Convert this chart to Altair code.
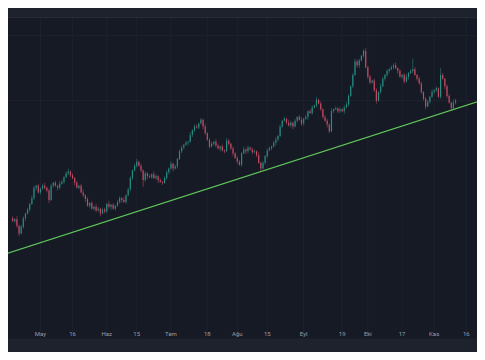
import altair as alt
import pandas as pd

# ---- data (daily candles) ----
close = [
    177, 179, 172, 164, 171, 180, 185, 189, 195, 201, 212, 214, 207, 211, 214, 212,
    209, 199, 214, 217, 214, 212, 216, 218, 223, 227, 229, 225, 222, 217, 212, 214,
    207, 204, 200, 193, 196, 190, 192, 188, 190, 185, 189, 187, 195, 192, 194, 190,
    193, 197, 201, 199, 197, 204, 210, 222, 230, 235, 239, 235, 230, 220, 227, 224,
    223, 226, 222, 224, 220, 218, 217, 222, 228, 232, 237, 232, 234, 242, 250, 254,
    257, 259, 260, 267, 272, 276, 275, 279, 283, 276, 269, 262, 255, 258, 260, 256,
    253, 255, 251, 250, 261, 258, 253, 248, 243, 239, 236, 248, 252, 250, 254, 252,
    249, 250, 246, 238, 232, 238, 245, 251, 253, 255, 259, 262, 266, 276, 282, 284,
    280, 277, 280, 276, 282, 286, 283, 279, 284, 286, 292, 290, 296, 298, 304, 300,
    294, 286, 282, 278, 271, 292, 294, 295, 292, 294, 292, 296, 299, 308, 318, 330,
    344, 340, 345, 350, 355, 338, 328, 322, 324, 314, 303, 312, 318, 326, 330, 334,
    336, 338, 340, 337, 334, 328, 330, 323, 328, 332, 334, 336, 330, 326, 321, 312,
    305, 297, 302, 307, 312, 314, 316, 307, 330, 326, 318, 308, 301, 295, 301, 303,
]
first_open = 180
upper_wick = [
    2, 1, 3, 1, 2, 2, 1, 2, 1, 3, 2, 1, 2, 1, 2, 3,
    1, 2, 2, 1, 2, 1, 3, 2, 1, 2, 3, 1, 2, 1, 2, 1,
    2, 3, 1, 2, 1, 2, 1, 3, 2, 1, 2, 2, 1, 3, 1, 2,
    1, 2, 2, 1, 3, 1, 2, 2, 1, 2, 3, 1, 2, 1, 2, 1,
    2, 1, 3, 2, 1, 2, 1, 2, 2, 1, 3, 1, 2, 1, 2, 2,
    1, 2, 1, 3, 1, 2, 2, 1, 2, 1, 3, 1, 2, 2, 1, 3,
    2, 1, 2, 1, 3, 2, 1, 2, 1, 2, 2, 1, 3, 1, 2, 1,
    2, 2, 1, 3, 1, 2, 1, 2, 2, 1, 2, 3, 1, 2, 1, 2,
    1, 3, 2, 1, 2, 1, 2, 3, 1, 2, 1, 2, 2, 1, 3, 1,
    2, 1, 2, 2, 1, 3, 1, 2, 1, 2, 1, 2, 3, 2, 1, 2,
    3, 2, 2, 1, 2, 3, 1, 2, 1, 2, 2, 1, 3, 2, 1, 2,
    1, 2, 2, 3, 1, 2, 1, 2, 3, 1, 2, 11, 2, 1, 2, 2,
    1, 2, 2, 1, 3, 1, 2, 1, 7, 2, 1, 2, 2, 1, 3, 2,
]
lower_wick = [
    1, 2, 2, 3, 1, 2, 3, 1, 2, 1, 2, 3, 1, 2, 1, 2,
    2, 3, 1, 2, 1, 3, 2, 1, 2, 1, 2, 2, 1, 3, 1, 2,
    1, 2, 3, 1, 2, 1, 2, 2, 1, 3, 1, 2, 1, 2, 3, 1,
    2, 1, 2, 3, 1, 2, 1, 2, 2, 1, 2, 1, 2, 7, 2, 3,
    1, 2, 1, 2, 3, 1, 2, 1, 2, 2, 1, 3, 1, 2, 1, 2,
    2, 1, 3, 1, 2, 2, 1, 2, 1, 3, 2, 1, 2, 1, 2, 2,
    1, 3, 1, 2, 1, 2, 2, 3, 1, 2, 1, 2, 1, 3, 2, 1,
    2, 1, 2, 1, 3, 1, 2, 2, 1, 2, 1, 3, 2, 1, 2, 1,
    2, 1, 2, 3, 1, 2, 1, 2, 2, 1, 3, 1, 2, 1, 2, 1,
    2, 2, 1, 3, 2, 1, 2, 1, 2, 2, 1, 3, 1, 2, 1, 2,
    1, 2, 3, 1, 2, 1, 2, 2, 1, 2, 3, 1, 2, 1, 2, 2,
    2, 1, 2, 1, 3, 1, 2, 2, 1, 3, 1, 2, 1, 2, 1, 2,
    2, 3, 1, 2, 1, 2, 2, 1, 2, 1, 3, 2, 1, 3, 1, 2,
]
start_date = "2024-04-18"

# trend line anchor points
trend_dates = ["2024-04-08", "2024-11-28"]
trend_values = [137.8, 306.7]

# x-axis labels (Turkish)
tick_dates = ["2024-05-01", "2024-05-16", "2024-06-01", "2024-06-15", "2024-07-01",
              "2024-07-18", "2024-08-01", "2024-08-15", "2024-09-01", "2024-09-19",
              "2024-10-01", "2024-10-17", "2024-11-01", "2024-11-16"]
tick_labels = ["May", "16", "Haz", "15", "Tem", "18", "Ağu", "15", "Eyl", "19",
               "Eki", "17", "Kas", "16"]

# ---- build tables ----
opens = [first_open] + close[:-1]
dates = pd.date_range(start_date, periods=len(close), freq="D").strftime("%Y-%m-%d")
df = pd.DataFrame({"date": dates, "open": opens, "close": close})
df["high"] = [max(o, c) + w for o, c, w in zip(opens, close, upper_wick)]
df["low"] = [min(o, c) - w for o, c, w in zip(opens, close, lower_wick)]
df["dir"] = ["up" if c >= o else "down" for o, c in zip(opens, close)]

trend_df = pd.DataFrame({"date": trend_dates, "value": trend_values})
ticks_df = pd.DataFrame({"date": tick_dates, "label": tick_labels})

W, H = 469, 344
BG = "#161a25"
PANEL = "#1e222d"

xscale = alt.Scale(
    type="utc",
    domain=[alt.DateTime(year=2024, month=4, date=18, hours=4, minutes=10, utc=True),
            alt.DateTime(year=2024, month=11, date=18, hours=16, minutes=20, utc=True)],
)
yscale = alt.Scale(domain=[40, 400], zero=False, nice=False)
color = alt.Color("dir:N", scale=alt.Scale(domain=["up", "down"],
                                           range=["#2b9b8f", "#e0506a"]), legend=None)
X = alt.X("date:T", scale=xscale, axis=None)

one = alt.Data(values=[{}])

vgrid = alt.Chart(ticks_df).mark_rule(color="#1d2130", strokeWidth=1).encode(
    x=X, y=alt.value(9.6), y2=alt.value(330.6))

hgrid = alt.Chart(pd.DataFrame({"value": [371, 303]})).mark_rule(
    color="#1f232e", strokeWidth=1).encode(
    y=alt.Y("value:Q", scale=yscale, axis=None), x=alt.value(0), x2=alt.value(W))

wick = alt.Chart(df).mark_rule(strokeWidth=0.6, opacity=0.8).encode(
    x=X,
    y=alt.Y("low:Q", scale=yscale, axis=None),
    y2="high:Q",
    color=color,
)
body = alt.Chart(df).mark_bar(size=1.2, opacity=0.8).encode(
    x=X,
    y=alt.Y("open:Q", scale=yscale, axis=None),
    y2="close:Q",
    color=color,
)
trend = alt.Chart(trend_df).mark_line(color="#5fc75a", strokeWidth=1.2, clip=True).encode(
    x=X, y=alt.Y("value:Q", scale=yscale, axis=None))

top_band = alt.Chart(one).mark_rect(color=PANEL).encode(
    x=alt.value(0), x2=alt.value(W), y=alt.value(0), y2=alt.value(9.6))
top_line = alt.Chart(one).mark_rule(color="#2a2e39", strokeWidth=1).encode(
    x=alt.value(0), x2=alt.value(W), y=alt.value(9.6))
bottom_band = alt.Chart(one).mark_rect(color=PANEL).encode(
    x=alt.value(0), x2=alt.value(W), y=alt.value(330.6), y2=alt.value(H))

labels = alt.Chart(ticks_df).mark_text(
    font="Roboto", fontSize=6, color="#9a9da6", baseline="middle", align="center"
).encode(x=X, y=alt.value(326), text="label:N")

chart = alt.layer(
    vgrid, hgrid, wick, body, trend, top_band, top_line, bottom_band, labels
).properties(
    width=W, height=H, padding=0, background=BG,
    autosize=alt.AutoSizeParams(type="none"),
).configure_view(stroke=None, fill=BG)

chart.save("out.html", embed_options={"renderer": "svg", "actions": False})
